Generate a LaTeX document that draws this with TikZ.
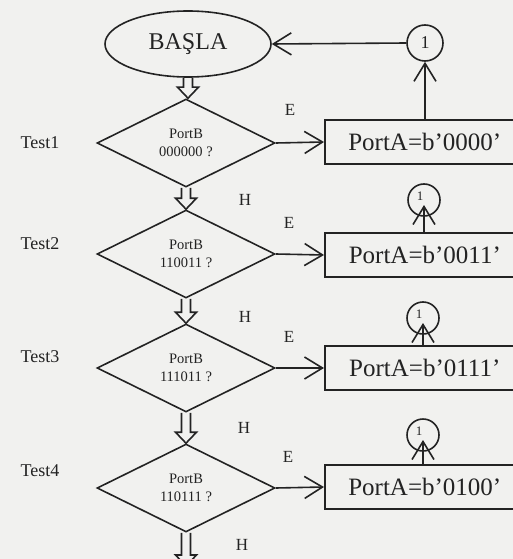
\documentclass[tikz,border=0pt]{standalone}
\usepackage{fontspec}
\setmainfont{Liberation Serif}
\usetikzlibrary{shapes.geometric,arrows.meta,calc}
\definecolor{paper}{RGB}{241,241,239}
\definecolor{ink}{RGB}{35,35,35}
\tikzset{
  every node/.style={text=ink},
  base/.style={draw=ink, line width=1.6pt},
  startnode/.style={base, ellipse, minimum width=166pt, minimum height=66pt, inner sep=0pt, font=\fontsize{24}{26}\selectfont},
  testnode/.style={base, diamond, aspect=2, minimum width=178pt, minimum height=88pt, inner sep=0pt, align=center, font=\fontsize{14.5}{18.5}\selectfont},
  portnode/.style={base, rectangle, anchor=west, minimum width=200pt, minimum height=44pt, inner sep=0pt, font=\fontsize{25}{27}\selectfont, text depth=0pt},
  bigcon/.style={base, circle, minimum size=36pt, inner sep=0pt, font=\fontsize{18}{20}\selectfont},
  smallcon/.style={base, circle, minimum size=32pt, inner sep=0pt},
  lbl/.style={font=\fontsize{17}{19}\selectfont, inner sep=0pt},
  testlbl/.style={font=\fontsize{18}{20}\selectfont, inner sep=0pt},
  yes/.style={draw=ink, line width=1.6pt, -{Straight Barb[length=18pt,width=22pt,line width=1.6pt]}},
  hollow/.style={draw=ink, line width=1.6pt, to path={let \p1=(\tikztostart), \p2=(\tikztotarget) in
    (\x1-4.5pt,\y1) -- (\x1-4.5pt,\y2+11pt) -- (\x1-10.5pt,\y2+11pt) -- (\x1,\y2) -- (\x1+10.5pt,\y2+11pt) -- (\x1+4.5pt,\y2+11pt) -- (\x1+4.5pt,\y1)}}
}
\begin{document}
\begin{tikzpicture}[x=1pt,y=-1pt]
\fill[paper] (0,0) rectangle (513,559);
\useasboundingbox (0,0) rectangle (513,559);
\clip (0,0) rectangle (513,559);

% start
\node[startnode] (start) at (188,44) {BAŞLA};

% tests
\node[testnode] (t1) at (186,143) {PortB\\000000 ?};
\node[testnode] (t2) at (186,254) {PortB\\110011 ?};
\node[testnode] (t3) at (186,368) {PortB\\111011 ?};
\node[testnode] (t4) at (186,488) {PortB\\110111 ?};
\coordinate (endc) at (186,566);

% test labels
\node[testlbl] (l1) at (40,143) {Test1};
\node[testlbl] (l2) at (40,244) {Test2};
\node[testlbl] (l3) at (40,357) {Test3};
\node[testlbl] (l4) at (40,471) {Test4};

% outputs
\node[portnode] (p1) at (324,142) {PortA=b’0000’};
\node[portnode] (p2) at (324,255) {PortA=b’0011’};
\node[portnode] (p3) at (324,368) {PortA=b’0111’};
\node[portnode] (p4) at (324,487) {PortA=b’0100’};

% connectors
\node[bigcon] (c1) at (425,43) {1};
\node[smallcon] (c2) at (424,200) {};
\node[smallcon] (c3) at (423,318) {};
\node[smallcon] (c4) at (423,435) {};
\node[font=\fontsize{13}{15}\selectfont, inner sep=0pt] (n2) at (420,196) {1};
\node[font=\fontsize{13}{15}\selectfont, inner sep=0pt] (n3) at (419,314) {1};
\node[font=\fontsize{13}{15}\selectfont, inner sep=0pt] (n4) at (419,431) {1};

% E / H labels
\node[lbl] (e1) at (290,110) {E};
\node[lbl] (e2) at (289,223) {E};
\node[lbl] (e3) at (289,337) {E};
\node[lbl] (e4) at (288,457) {E};
\node[lbl] (h1) at (245,200) {H};
\node[lbl] (h2) at (245,317) {H};
\node[lbl] (h3) at (244,428) {H};
\node[lbl] (h4) at (242,545) {H};

% hollow down arrows
\draw[hollow] (start.south) to (t1.north);
\draw[hollow] (t1.south) to (t2.north);
\draw[hollow] (t2.south) to (t3.north);
\draw[hollow] (t3.south) to (t4.north);
\draw[hollow] (t4.south) to (endc);

% yes arrows
\draw[yes] (t1.east) -- (p1.west);
\draw[yes] (t2.east) -- (p2.west);
\draw[yes] (t3.east) -- (p3.west);
\draw[yes] (t4.east) -- (p4.west);

% back to start
\draw[yes] (c1.west) -- (start.east);
\draw[yes] (p1.north -| c1.south) -- (c1.south);
\draw[yes] (p2.north -| c2.center) -- ([yshift=-5pt]c2.center);
\draw[yes] (p3.north -| c3.center) -- ([yshift=-5pt]c3.center);
\draw[yes] (p4.north -| c4.center) -- ([yshift=-5pt]c4.center);
\end{tikzpicture}
\end{document}
